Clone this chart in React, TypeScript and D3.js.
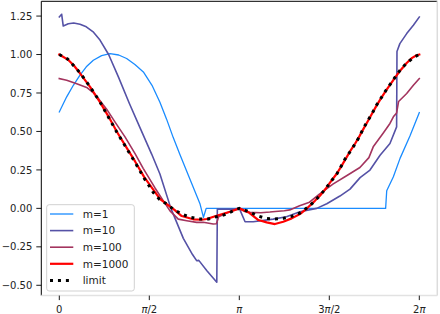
import React, { useEffect, useRef } from "react";
import * as d3 from "d3";

// x is stored in units of π, y as plotted
type Pt = [number, number];

// ─── Data ─────────────────────────────────────────────────────────────────────
const m1: Pt[] = [
  [0, 0.627], [0.041, 0.725], [0.078, 0.8], [0.115, 0.866], [0.15, 0.92],
  [0.189, 0.963], [0.235, 0.993], [0.282, 1.006], [0.33, 0.997], [0.374, 0.974],
  [0.42, 0.935], [0.467, 0.887], [0.515, 0.8], [0.559, 0.69], [0.596, 0.58],
  [0.633, 0.46], [0.67, 0.35], [0.726, 0.19], [0.782, 0.028], [0.801, -0.058],
  [0.816, 0.0], [1.813, 0.0], [1.819, 0.114], [1.856, 0.205], [1.893, 0.325],
  [1.948, 0.47], [2.0, 0.623],
];

const m10: Pt[] = [
  [0, 1.244], [0.013, 1.262], [0.022, 1.185], [0.05, 1.2], [0.08, 1.205],
  [0.115, 1.197], [0.15, 1.18], [0.19, 1.145], [0.226, 1.094], [0.274, 1.0],
  [0.33, 0.85], [0.39, 0.68], [0.45, 0.52], [0.513, 0.353], [0.559, 0.223],
  [0.62, 0.0], [0.689, -0.195], [0.74, -0.3], [0.763, -0.34], [0.775, -0.338],
  [0.82, -0.405], [0.875, -0.48], [0.878, -0.005], [0.995, -0.005], [1.0, 0.0],
  [1.032, -0.087], [1.077, -0.087], [1.188, -0.07], [1.262, -0.055], [1.337, -0.022],
  [1.43, 0.0], [1.486, 0.03], [1.559, 0.08], [1.615, 0.125], [1.671, 0.2],
  [1.726, 0.249], [1.782, 0.345], [1.837, 0.422], [1.874, 0.53], [1.876, 1.02],
  [1.892, 1.071], [1.93, 1.136], [1.967, 1.19], [2.0, 1.244],
];

const m100: Pt[] = [
  [0, 0.844], [0.041, 0.833], [0.097, 0.81], [0.152, 0.786], [0.19, 0.75],
  [0.22, 0.71], [0.263, 0.645], [0.309, 0.562], [0.365, 0.465], [0.42, 0.357],
  [0.466, 0.26], [0.53, 0.136], [0.578, 0.049], [0.615, -0.016], [0.661, -0.07],
  [0.708, -0.08], [0.763, -0.091], [0.8, -0.09], [0.855, -0.102], [0.873, -0.1],
  [0.885, -0.055], [0.93, -0.03], [0.97, -0.012], [1.0, 0.0], [1.03, -0.02],
  [1.06, -0.026], [1.12, -0.028], [1.17, -0.024], [1.2, -0.02], [1.25, -0.015],
  [1.28, -0.01], [1.335, 0.017], [1.39, 0.04], [1.445, 0.093], [1.52, 0.158],
  [1.596, 0.212], [1.67, 0.266], [1.72, 0.33], [1.744, 0.4], [1.8, 0.49],
  [1.837, 0.552], [1.856, 0.595], [1.874, 0.62], [1.885, 0.695], [1.93, 0.747],
  [1.967, 0.8], [2.0, 0.844],
];

const m1000: Pt[] = [
  [0, 1.0], [0.05, 0.965], [0.08, 0.93], [0.115, 0.878], [0.171, 0.79],
  [0.226, 0.69], [0.272, 0.6], [0.319, 0.5], [0.371, 0.4], [0.421, 0.305],
  [0.471, 0.205], [0.504, 0.151], [0.56, 0.06], [0.597, 0.028], [0.64, -0.01],
  [0.68, -0.05], [0.744, -0.071], [0.79, -0.074], [0.819, -0.069], [0.874, -0.048],
  [0.948, -0.022], [1.0, 0.0], [1.052, -0.026], [1.106, -0.076], [1.152, -0.091],
  [1.198, -0.102], [1.244, -0.087], [1.291, -0.065], [1.337, -0.037], [1.378, 0.002],
  [1.42, 0.049], [1.448, 0.082], [1.482, 0.131], [1.509, 0.175], [1.541, 0.225],
  [1.565, 0.27], [1.59, 0.32], [1.615, 0.37], [1.643, 0.42], [1.667, 0.468],
  [1.689, 0.515], [1.713, 0.565], [1.737, 0.615], [1.76, 0.663], [1.786, 0.713],
  [1.813, 0.762], [1.841, 0.81], [1.869, 0.856], [1.897, 0.9], [1.93, 0.945],
  [1.96, 0.978], [1.985, 0.995], [2.0, 1.0],
];

const limit: Pt[] = [
  [0, 1.0], [0.047, 0.97], [0.115, 0.882], [0.171, 0.79], [0.226, 0.692],
  [0.272, 0.595], [0.319, 0.497], [0.371, 0.396], [0.421, 0.299], [0.471, 0.197],
  [0.522, 0.104], [0.556, 0.06], [0.597, 0.028], [0.633, -0.005], [0.68, -0.037],
  [0.726, -0.058], [0.782, -0.069], [0.828, -0.069], [0.874, -0.054], [0.915, -0.042],
  [0.96, -0.02], [1.0, 0.0], [1.056, -0.022], [1.1, -0.048], [1.147, -0.065],
  [1.193, -0.07], [1.244, -0.065], [1.291, -0.052], [1.337, -0.03], [1.38, 0.006],
  [1.415, 0.043], [1.448, 0.084], [1.482, 0.131], [1.509, 0.175], [1.541, 0.222],
  [1.565, 0.272], [1.587, 0.32], [1.615, 0.368], [1.643, 0.418], [1.667, 0.465],
  [1.689, 0.519], [1.713, 0.569], [1.737, 0.614], [1.759, 0.665], [1.786, 0.714],
  [1.813, 0.764], [1.841, 0.811], [1.869, 0.859], [1.897, 0.904], [1.93, 0.945],
  [1.971, 0.984], [2.0, 1.0],
];

const LABELS = ["m=1", "m=10", "m=100", "m=1000", "limit"];
const X_TICKS = [0, 0.5, 1, 1.5, 2];
const X_TICK_LABELS = ["0", "π/2", "π", "3π/2", "2π"];
const Y_TICKS = [-0.5, -0.25, 0, 0.25, 0.5, 0.75, 1.0, 1.25];

// ─── Styles ───────────────────────────────────────────────────────────────────
const STYLES = [
  { color: "#1a8cff", width: 1.3, dash: null },
  { color: "#5552a6", width: 1.6, dash: null },
  { color: "#a3345e", width: 1.6, dash: null },
  { color: "#ff0000", width: 2.2, dash: null },
  { color: "#000000", width: 3, dash: "3,4.95" },
];

const W = 440;
const H = 314;
const PLOT = { left: 41.3, right: 437.3, top: 1.3, bottom: 295.6 };
const FONT = "'DejaVu Sans', sans-serif";

export default function App() {
  const svgRef = useRef<SVGSVGElement>(null);

  useEffect(() => {
    const node = svgRef.current;
    if (!node) return;
    const svg = d3.select(node);
    svg.selectAll("*").remove();

    const x = d3.scaleLinear().domain([-0.1, 2.1]).range([PLOT.left, PLOT.right]);
    const y = d3.scaleLinear().domain([-0.567, 1.346]).range([PLOT.bottom, PLOT.top]);

    svg.append("rect").attr("width", W).attr("height", H).attr("fill", "#fff");

    // clip so nothing leaks past the axes
    svg.append("clipPath").attr("id", "plot-clip")
      .append("rect")
      .attr("x", PLOT.left).attr("y", PLOT.top)
      .attr("width", PLOT.right - PLOT.left).attr("height", PLOT.bottom - PLOT.top);

    // ── Series ──────────────────────────────────────────────────────────────
    const line = d3.line<Pt>().x((d) => x(d[0])).y((d) => y(d[1]));
    const series = [m1, m10, m100, m1000, limit];
    const lines = svg.append("g").attr("clip-path", "url(#plot-clip)");
    series.forEach((pts, i) => {
      const s = STYLES[i];
      const p = lines.append("path")
        .attr("d", line(pts))
        .attr("fill", "none")
        .attr("stroke", s.color)
        .attr("stroke-width", s.width)
        .attr("stroke-linejoin", "round")
        .attr("stroke-linecap", s.dash ? "butt" : "square");
      if (s.dash) p.attr("stroke-dasharray", s.dash);
    });

    // ── Spines ──────────────────────────────────────────────────────────────
    svg.append("line").attr("x1", PLOT.left).attr("x2", PLOT.right)
      .attr("y1", PLOT.top).attr("y2", PLOT.top).attr("stroke", "#000").attr("stroke-width", 1);
    svg.append("line").attr("x1", PLOT.left).attr("x2", PLOT.left)
      .attr("y1", PLOT.top).attr("y2", PLOT.bottom).attr("stroke", "#000").attr("stroke-width", 1);
    svg.append("line").attr("x1", PLOT.right).attr("x2", PLOT.right)
      .attr("y1", PLOT.top).attr("y2", PLOT.bottom).attr("stroke", "#dcdcdc").attr("stroke-width", 1.5);
    svg.append("line").attr("x1", PLOT.left).attr("x2", PLOT.right)
      .attr("y1", PLOT.bottom).attr("y2", PLOT.bottom).attr("stroke", "#e2e2e2").attr("stroke-width", 1.5);

    // ── Y ticks ─────────────────────────────────────────────────────────────
    const fmt = d3.format(".2f");
    const yt = svg.append("g");
    Y_TICKS.forEach((v) => {
      yt.append("line").attr("x1", PLOT.left - 5).attr("x2", PLOT.left)
        .attr("y1", y(v)).attr("y2", y(v)).attr("stroke", "#000").attr("stroke-width", 0.9);
      yt.append("text")
        .attr("x", PLOT.left - 9).attr("y", y(v)).attr("dy", "0.36em")
        .attr("text-anchor", "end").attr("font-size", 10).attr("font-family", FONT)
        .attr("fill", "#222")
        .text(fmt(v).replace("-", "\u2212"));
    });

    // ── X ticks ─────────────────────────────────────────────────────────────
    const xt = svg.append("g");
    X_TICKS.forEach((v, i) => {
      xt.append("line").attr("x1", x(v)).attr("x2", x(v))
        .attr("y1", PLOT.bottom).attr("y2", PLOT.bottom + 4.5).attr("stroke", "#000").attr("stroke-width", 0.9);
      const t = xt.append("text")
        .attr("x", x(v)).attr("y", 313)
        .attr("text-anchor", "middle").attr("font-size", 10).attr("font-family", FONT)
        .attr("fill", "#222");
      X_TICK_LABELS[i].split(/(π)/).filter((s) => s.length).forEach((part) => {
        t.append("tspan").attr("font-style", part === "π" ? "italic" : "normal").text(part);
      });
    });

    // ── Legend ──────────────────────────────────────────────────────────────
    const lg = svg.append("g");
    lg.append("rect")
      .attr("x", 46.7).attr("y", 204.7).attr("width", 87.6).attr("height", 86.3)
      .attr("rx", 2.5).attr("fill", "#fff").attr("fill-opacity", 0.8)
      .attr("stroke", "#cccccc").attr("stroke-width", 0.9);
    LABELS.forEach((lab, i) => {
      const cy = 214 + i * 16.6;
      const s = STYLES[i];
      const l = lg.append("line").attr("x1", 50).attr("x2", 73.3)
        .attr("y1", cy).attr("y2", cy)
        .attr("stroke", s.color).attr("stroke-width", s.width);
      if (s.dash) l.attr("stroke-dasharray", s.dash);
      lg.append("text").attr("x", 82.7).attr("y", cy).attr("dy", "0.36em")
        .attr("font-size", 10.5).attr("font-family", FONT).attr("fill", "#222")
        .text(lab);
    });
  }, []);

  return (
    <svg
      ref={svgRef}
      width={W}
      height={H}
      style={{ position: "absolute", left: 0, top: 0, display: "block" }}
    />
  );
}
